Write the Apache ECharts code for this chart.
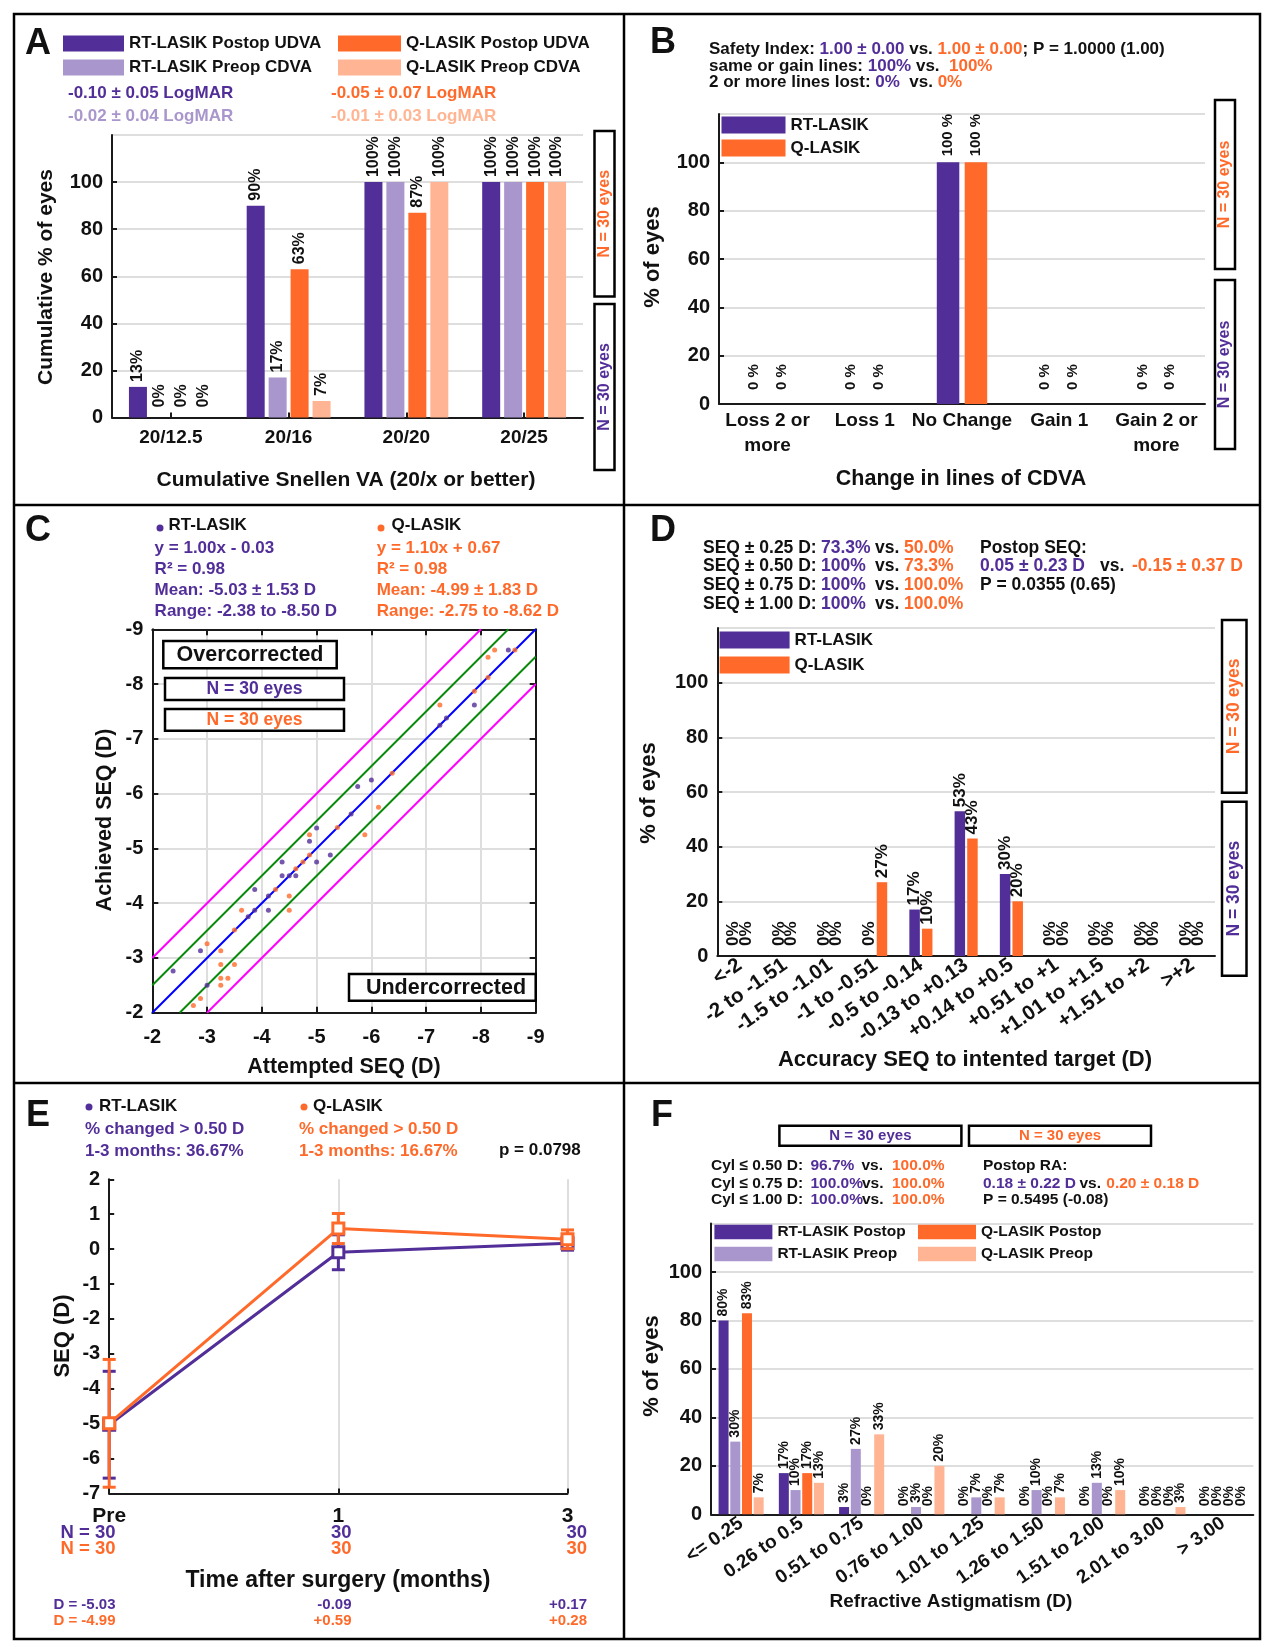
<!DOCTYPE html>
<html>
<head>
<meta charset="utf-8">
<title>RT-LASIK vs Q-LASIK outcomes</title>
<script src="https://cdn.jsdelivr.net/npm/echarts@6.0.0/dist/echarts.min.js"></script>
<style>
  html, body { margin: 0; padding: 0; background: #fff; }
  #chart { width: 1269px; height: 1647px; }
</style>
</head>
<body>
<div id="chart"></div>
<script>
// ---- A: cumulative Snellen VA ----
const vaCategories = ['20/12.5', '20/16', '20/20', '20/25'];
const rtPostopUdva = [13, 90, 100, 100];
const rtPreopCdva = [0, 17, 100, 100];
const qPostopUdva = [0, 63, 87, 100];
const qPreopCdva = [0, 7, 100, 100];

// ---- B: change in lines of CDVA ----
const cdvaCategories = ['Loss 2 or\nmore', 'Loss 1', 'No Change', 'Gain 1', 'Gain 2 or\nmore'];
const rtCdvaChange = [0, 0, 100, 0, 0];
const qCdvaChange = [0, 0, 100, 0, 0];

// ---- C: attempted vs achieved SEQ, [attempted, achieved] ----
const rtScatter = [
  [-2.38, -2.76], [-2.88, -3.13], [-3.00, -2.50], [-3.75, -3.75], [-3.87, -4.25],
  [-3.87, -3.87], [-4.12, -4.13], [-4.12, -3.87], [-4.37, -4.75], [-4.37, -4.50],
  [-4.50, -4.50], [-4.62, -4.50], [-4.87, -5.13], [-5.00, -5.37], [-5.00, -4.75],
  [-5.25, -4.88], [-5.63, -5.63], [-5.75, -6.13], [-6.00, -6.25], [-7.25, -7.25],
  [-7.37, -7.38], [-7.88, -7.62], [-8.50, -8.62]
];
const qScatter = [
  [-2.75, -2.13], [-2.88, -2.26], [-3.00, -3.26], [-3.25, -3.13], [-3.25, -2.88],
  [-3.25, -2.63], [-3.25, -2.50], [-3.38, -2.63], [-3.50, -3.51], [-3.50, -2.88],
  [-3.63, -3.87], [-4.25, -4.25], [-4.50, -4.13], [-4.50, -3.87], [-4.62, -4.63],
  [-4.75, -4.75], [-4.87, -4.88], [-4.87, -5.25], [-5.38, -5.38], [-5.88, -5.25],
  [-6.13, -5.75], [-6.38, -6.37], [-7.25, -7.62], [-7.88, -7.87], [-8.13, -8.12],
  [-8.13, -8.49], [-8.25, -8.62], [-8.62, -8.62]
];
const seqRange = [-9, -2];
const refOffsets = [-1, -0.5, 0, 0.5, 1];

// ---- D: accuracy of SEQ ----
const accuracyCategories = ['<-2', '-2 to -1.51', '-1.5 to -1.01', '-1 to -0.51', '-0.5 to -0.14',
  '-0.13 to +0.13', '+0.14 to +0.5', '+0.51 to +1', '+1.01 to +1.5', '+1.51 to +2', '>+2'];
const rtAccuracy = [0, 0, 0, 0, 17, 53, 30, 0, 0, 0, 0];
const qAccuracy = [0, 0, 0, 27, 10, 43, 20, 0, 0, 0, 0];

// ---- E: stability of SEQ ----
const timeCategories = ['Pre', '1', '3'];
const rtSeqMean = [-5.03, -0.09, 0.17];
const rtSeqSd = [1.53, 0.50, 0.20];
const qSeqMean = [-4.99, 0.59, 0.28];
const qSeqSd = [1.83, 0.43, 0.27];
const rtEyes = [30, 30, 30];
const qEyes = [30, 30, 30];

// ---- F: refractive astigmatism ----
const astigCategories = ['<= 0.25', '0.26 to 0.5', '0.51 to 0.75', '0.76 to 1.00', '1.01 to 1.25',
  '1.26 to 1.50', '1.51 to 2.00', '2.01 to 3.00', '> 3.00'];
const rtPostopCyl = [80, 17, 3, 0, 0, 0, 0, 0, 0];
const rtPreopCyl = [30, 10, 27, 3, 7, 10, 13, 0, 0];
const qPostopCyl = [83, 17, 0, 0, 0, 0, 0, 0, 0];
const qPreopCyl = [7, 13, 33, 20, 7, 7, 10, 3, 0];

// ---- styling ----
const PURPLE = '#522E98';
const LIGHT_PURPLE = '#A896CC';
const ORANGE = '#FF6A2B';
const LIGHT_ORANGE = '#FFB593';
const INK = '#111';
const GRIDC = '#dedede';
const FONT = '"Liberation Sans", Arial, Helvetica, sans-serif';

function font(size, weight) { return (weight || 'bold') + ' ' + size + 'px ' + FONT; }
function richSet(size, weight) {
  const f = font(size, weight);
  return {
    p: { fill: PURPLE, font: f }, o: { fill: ORANGE, font: f },
    lp: { fill: LIGHT_PURPLE, font: f }, lo: { fill: LIGHT_ORANGE, font: f },
    k: { fill: INK, font: f }
  };
}
function txt(x, y, text, o) {
  o = o || {};
  const size = o.size || 17, weight = o.weight || 'bold';
  return {
    type: 'text', x: x, y: y, rotation: o.rot || 0, z: 100, silent: true,
    style: {
      text: text, fill: o.color || INK, font: font(size, weight),
      align: o.align || 'left', verticalAlign: 'middle',
      rich: richSet(size, weight), legacy: false
    }
  };
}
function box(x, y, w, h) {
  return { type: 'rect', z: 99, silent: true, shape: { x: x, y: y, width: w, height: h },
    style: { fill: '#fff', stroke: '#000', lineWidth: 2.5 } };
}
function rule(x1, y1, x2, y2) {
  return { type: 'line', z: 99, silent: true, shape: { x1: x1, y1: y1, x2: x2, y2: y2 },
    style: { stroke: '#000', lineWidth: 2.5 } };
}
function dot(cx, cy, color) {
  return { type: 'circle', z: 100, silent: true, shape: { cx: cx, cy: cy, r: 3.5 }, style: { fill: color } };
}
function nBoxV(x, y, w, h, color, size) {
  return [box(x, y, w, h), txt(x + w / 2, y + h / 2, 'N = 30 eyes', { rot: Math.PI / 2, align: 'center', color: color, size: size })];
}
function nBoxH(x, y, w, h, color, size) {
  return [box(x, y, w, h), txt(x + w / 2, y + h / 2, 'N = 30 eyes', { align: 'center', color: color, size: size })];
}
const fmtD = v => (v > 0 ? '+' : '') + v.toFixed(2);

// ---- axis helpers ----
const axisLine = { onZero: false, lineStyle: { color: '#1a1a1a', width: 2 } };
const tickIn = { show: true, inside: true, length: 5, lineStyle: { color: '#1a1a1a', width: 2 } };
const split = { show: true, lineStyle: { color: GRIDC, width: 2 } };
function lbl(size, margin, extra) {
  return Object.assign({ color: INK, fontFamily: FONT, fontWeight: 'bold', fontSize: size, margin: margin }, extra || {});
}
function pctAxis(gridIndex) {
  return { type: 'value', gridIndex: gridIndex, min: 0, max: 120, interval: 20,
    axisLine: Object.assign({ show: true }, axisLine), axisTick: tickIn,
    axisLabel: lbl(20, 9, { showMaxLabel: false }), splitLine: split };
}
function catAxis(gridIndex, data, label, tick) {
  return { type: 'category', gridIndex: gridIndex, data: data, axisLine: axisLine,
    axisTick: tick || { show: false }, axisLabel: label, splitLine: { show: false } };
}
function barLabel(fmt, size, dist) {
  return { show: true, position: 'top', rotate: 90, align: 'left', verticalAlign: 'middle',
    distance: dist, formatter: fmt, fontSize: size, fontWeight: 'bold', color: INK, fontFamily: FONT };
}
function zeroGap(arr, gap) {
  return arr.map(v => (v === 0 ? { value: v, label: { distance: gap } } : v));
}
function bars(name, data, color, xi, width, gap, labelOpt, zgap) {
  return { type: 'bar', name: name, xAxisIndex: xi, yAxisIndex: xi, data: zeroGap(data, zgap),
    barWidth: width, barGap: gap, itemStyle: { color: color }, label: labelOpt };
}
function errorBars(color) {
  return function (params, api) {
    const i = api.value(0), m = api.value(1), sd = api.value(2);
    const top = api.coord([i, m + sd]);
    const bot = api.coord([i, m - sd]);
    const w = 6.5;
    const st = { stroke: color, lineWidth: 3 };
    return { type: 'group', children: [
      { type: 'line', shape: { x1: top[0], y1: top[1], x2: bot[0], y2: bot[1] }, style: st },
      { type: 'line', shape: { x1: top[0] - w, y1: top[1], x2: top[0] + w, y2: top[1] }, style: st },
      { type: 'line', shape: { x1: bot[0] - w, y1: bot[1], x2: bot[0] + w, y2: bot[1] }, style: st }
    ] };
  };
}

// reference lines in C: achieved = attempted + offset, clipped to the plot range
const refColors = { 1: '#ff00ff', 0.5: '#0a8a0a', 0: '#0000ff' };
const refSeries = refOffsets.map(o => {
  const a1 = Math.max(seqRange[0], seqRange[0] - o);
  const a2 = Math.min(seqRange[1], seqRange[1] - o);
  return { type: 'line', xAxisIndex: 2, yAxisIndex: 2, symbol: 'none', silent: true, z: 2,
    data: [[a1, a1 + o], [a2, a2 + o]],
    lineStyle: { color: refColors[Math.abs(o)], width: 2 } };
});

const legendText = size => ({ color: INK, fontFamily: FONT, fontWeight: 'bold', fontSize: size });
function legend(names, left, top, w, h, gap, size) {
  return { data: names, left: left, top: top, orient: 'vertical', itemWidth: w, itemHeight: h,
    itemGap: gap, icon: 'rect', padding: 0, selectedMode: false, textStyle: legendText(size) };
}

const F_SIZE = 15.5;
const graphics = [].concat(
  [
    { type: 'rect', z: 99, silent: true, shape: { x: 14, y: 14, width: 1246, height: 1625 },
      style: { fill: 'none', stroke: '#000', lineWidth: 2.5 } },
    rule(624, 14, 624, 1639), rule(14, 505, 1260, 505), rule(14, 1083, 1260, 1083),
    txt(25, 44, 'A', { size: 36 }), txt(650, 43, 'B', { size: 36 }),
    txt(25, 531, 'C', { size: 36 }), txt(650, 531, 'D', { size: 36 }),
    txt(26, 1116, 'E', { size: 36 }), txt(651, 1116, 'F', { size: 36 }),

    // A
    txt(68, 93, '-0.10 ± 0.05 LogMAR', { color: PURPLE }),
    txt(68, 116, '-0.02 ± 0.04 LogMAR', { color: LIGHT_PURPLE }),
    txt(331, 93, '-0.05 ± 0.07 LogMAR', { color: ORANGE }),
    txt(331, 116, '-0.01 ± 0.03 LogMAR', { color: LIGHT_ORANGE }),
    txt(46, 277, 'Cumulative % of eyes', { rot: Math.PI / 2, align: 'center', size: 21 }),
    txt(346, 480, 'Cumulative Snellen VA (20/x or better)', { align: 'center', size: 21 }),

    // B
    txt(709, 49, 'Safety Index: {p|1.00 ± 0.00} vs. {o|1.00 ± 0.00}; P = 1.0000 (1.00)', { size: 17 }),
    txt(709, 66, 'same or gain lines: {p|100%} vs.  {o|100%}', { size: 17 }),
    txt(709, 82, '2 or more lines lost: {p|0%}  vs. {o|0%}', { size: 17 }),
    txt(653, 257, '% of eyes', { rot: Math.PI / 2, align: 'center', size: 22 }),
    txt(961, 479, 'Change in lines of CDVA', { align: 'center', size: 21.5 }),

    // C
    dot(160, 528, PURPLE), txt(168.5, 525, 'RT-LASIK'),
    txt(154.6, 548, 'y = 1.00x - 0.03', { color: PURPLE }),
    txt(154.6, 569, 'R² = 0.98', { color: PURPLE }),
    txt(154.6, 590, 'Mean: -5.03 ± 1.53 D', { color: PURPLE }),
    txt(154.6, 611.5, 'Range: -2.38 to -8.50 D', { color: PURPLE }),
    dot(381, 528, ORANGE), txt(391.5, 525, 'Q-LASIK'),
    txt(376.7, 548, 'y = 1.10x + 0.67', { color: ORANGE }),
    txt(376.7, 569, 'R² = 0.98', { color: ORANGE }),
    txt(376.7, 590, 'Mean: -4.99 ± 1.83 D', { color: ORANGE }),
    txt(376.7, 611.5, 'Range: -2.75 to -8.62 D', { color: ORANGE }),
    txt(105, 820, 'Achieved SEQ (D)', { rot: Math.PI / 2, align: 'center', size: 21.5 }),
    txt(344, 1067, 'Attempted SEQ (D)', { align: 'center', size: 21.5 }),
    box(163.3, 641, 173.4, 27.3), txt(250, 655, 'Overcorrected', { align: 'center', size: 21.5 }),
    box(349, 974, 186.7, 26.7), txt(446, 988, 'Undercorrected', { align: 'center', size: 21.5 }),

    // D
    txt(703, 548, 'SEQ ± 0.25 D:', { size: 17.5 }), txt(703, 566.5, 'SEQ ± 0.50 D:', { size: 17.5 }),
    txt(703, 585, 'SEQ ± 0.75 D:', { size: 17.5 }), txt(703, 604, 'SEQ ± 1.00 D:', { size: 17.5 }),
    txt(821, 548, '73.3%', { size: 17.5, color: PURPLE }), txt(821, 566.5, '100%', { size: 17.5, color: PURPLE }),
    txt(821, 585, '100%', { size: 17.5, color: PURPLE }), txt(821, 604, '100%', { size: 17.5, color: PURPLE }),
    txt(875, 548, 'vs.', { size: 17.5 }), txt(875, 566.5, 'vs.', { size: 17.5 }),
    txt(875, 585, 'vs.', { size: 17.5 }), txt(875, 604, 'vs.', { size: 17.5 }),
    txt(904, 548, '50.0%', { size: 17.5, color: ORANGE }), txt(904, 566.5, '73.3%', { size: 17.5, color: ORANGE }),
    txt(904, 585, '100.0%', { size: 17.5, color: ORANGE }), txt(904, 604, '100.0%', { size: 17.5, color: ORANGE }),
    txt(980, 548, 'Postop SEQ:', { size: 17.5 }),
    txt(980, 566.5, '0.05 ± 0.23 D', { size: 17.5, color: PURPLE }),
    txt(1100, 566.5, 'vs.', { size: 17.5 }),
    txt(1132, 566.5, '-0.15 ± 0.37 D', { size: 17.5, color: ORANGE }),
    txt(980, 585, 'P = 0.0355 (0.65)', { size: 17.5 }),
    txt(649, 793, '% of eyes', { rot: Math.PI / 2, align: 'center', size: 22 }),
    txt(965, 1060, 'Accuracy SEQ to intented target (D)', { align: 'center', size: 22 }),

    // E
    dot(89, 1107, PURPLE), txt(99, 1106.5, 'RT-LASIK'),
    txt(85, 1129, '% changed > 0.50 D', { color: PURPLE }),
    txt(85, 1151.5, '1-3 months: 36.67%', { color: PURPLE }),
    dot(304, 1107, ORANGE), txt(313, 1106.5, 'Q-LASIK'),
    txt(299, 1129, '% changed > 0.50 D', { color: ORANGE }),
    txt(299, 1151.5, '1-3 months: 16.67%', { color: ORANGE }),
    txt(499, 1150.5, 'p = 0.0798'),
    txt(63, 1336, 'SEQ (D)', { rot: Math.PI / 2, align: 'center', size: 22 }),
    txt(338, 1581, 'Time after surgery (months)', { align: 'center', size: 23 }),

    // F
    txt(711, 1166, 'Cyl ≤ 0.50 D:', { size: F_SIZE }),
    txt(711, 1183.3, 'Cyl ≤ 0.75 D:', { size: F_SIZE }),
    txt(711, 1200, 'Cyl ≤ 1.00 D:', { size: F_SIZE }),
    txt(810.4, 1166, '96.7%', { size: F_SIZE, color: PURPLE }),
    txt(810.4, 1183.3, '100.0%', { size: F_SIZE, color: PURPLE }),
    txt(810.4, 1200, '100.0%', { size: F_SIZE, color: PURPLE }),
    txt(861.5, 1166, 'vs.', { size: F_SIZE }),
    txt(862, 1183.3, 'vs.', { size: F_SIZE }),
    txt(862, 1200, 'vs.', { size: F_SIZE }),
    txt(892, 1166, '100.0%', { size: F_SIZE, color: ORANGE }),
    txt(892, 1183.3, '100.0%', { size: F_SIZE, color: ORANGE }),
    txt(892, 1200, '100.0%', { size: F_SIZE, color: ORANGE }),
    txt(983, 1166, 'Postop RA:', { size: F_SIZE }),
    txt(983, 1183.3, '0.18 ± 0.22 D', { size: F_SIZE, color: PURPLE }),
    txt(1079.5, 1183.3, 'vs.', { size: F_SIZE }),
    txt(1106.3, 1183.3, '0.20 ± 0.18 D', { size: F_SIZE, color: ORANGE }),
    txt(983, 1200, 'P = 0.5495 (-0.08)', { size: F_SIZE }),
    txt(652, 1366, '% of eyes', { rot: Math.PI / 2, align: 'center', size: 22 }),
    txt(951, 1602, 'Refractive Astigmatism (D)', { align: 'center', size: 19 })
  ],
  nBoxV(594.5, 131, 20, 165.5, ORANGE, 16), nBoxV(594.5, 304, 20, 166, PURPLE, 16),
  nBoxV(1215, 100, 20, 169, ORANGE, 16), nBoxV(1215, 280, 20, 169, PURPLE, 16),
  nBoxH(165, 678, 179, 22, PURPLE, 17.5), nBoxH(165, 709, 179, 21.7, ORANGE, 17.5),
  nBoxV(1222, 620, 24.5, 172.7, ORANGE, 17.5), nBoxV(1222, 801.7, 24.5, 174, PURPLE, 17.5),
  nBoxH(779.4, 1125.7, 182, 20, PURPLE, 15), nBoxH(969, 1125.7, 182, 20, ORANGE, 15)
);

// E: eye counts and mean SEQ under each time point
const eCols = [115.5, 351.5, 587];
timeCategories.forEach((c, i) => {
  graphics.push(txt(eCols[i], 1533.3, (i === 0 ? 'N = ' : '') + rtEyes[i], { align: 'right', size: 18.5, color: PURPLE }));
  graphics.push(txt(eCols[i], 1549.3, (i === 0 ? 'N = ' : '') + qEyes[i], { align: 'right', size: 18.5, color: ORANGE }));
  graphics.push(txt(eCols[i], 1605, (i === 0 ? 'D = ' : '') + fmtD(rtSeqMean[i]), { align: 'right', size: 15, color: PURPLE }));
  graphics.push(txt(eCols[i], 1620.7, (i === 0 ? 'D = ' : '') + fmtD(qSeqMean[i]), { align: 'right', size: 15, color: ORANGE }));
});

const option = {
  animation: false,
  backgroundColor: '#fff',
  textStyle: { fontFamily: FONT },
  grid: [
    { left: 112, top: 135, width: 471, height: 282.5, outerBoundsMode: 'none' },
    { left: 719, top: 114, width: 486, height: 290, outerBoundsMode: 'none' },
    { left: 152.3, top: 629.3, width: 383.4, height: 383.4, outerBoundsMode: 'none' },
    { left: 717.3, top: 628, width: 497.7, height: 328, outerBoundsMode: 'none' },
    { left: 109.2, top: 1179.3, width: 458.3, height: 314.2, outerBoundsMode: 'none' },
    { left: 711, top: 1223.6, width: 542.3, height: 290.7, outerBoundsMode: 'none' }
  ],
  legend: [
    legend(['RT-LASIK Postop UDVA', 'RT-LASIK Preop CDVA'], 63, 35, 61, 16, 7, 17),
    legend(['Q-LASIK Postop UDVA', 'Q-LASIK Preop CDVA'], 338, 35, 63, 16, 7, 17),
    legend(['RT-LASIK', 'Q-LASIK'], 721.5, 116.5, 64, 17, 6, 17),
    legend(['RT-LASIK', 'Q-LASIK'], 719.6, 631.5, 70, 17, 8, 17),
    legend(['RT-LASIK Postop', 'RT-LASIK Preop'], 714.4, 1224, 58, 14.5, 6, 15.5),
    legend(['Q-LASIK Postop', 'Q-LASIK Preop'], 918, 1224, 58, 14.5, 6, 15.5)
  ],
  xAxis: [
    catAxis(0, vaCategories, lbl(19, 11), { show: true, inside: true, alignWithLabel: true, length: 5, lineStyle: { color: '#1a1a1a', width: 2 } }),
    catAxis(1, cdvaCategories, lbl(19, 4, { lineHeight: 25, interval: 0 })),
    { type: 'value', gridIndex: 2, min: seqRange[0], max: seqRange[1], interval: 1, inverse: true,
      axisLine: axisLine, axisTick: Object.assign({}, tickIn, { length: 6 }), axisLabel: lbl(20, 15), splitLine: split },
    { type: 'value', gridIndex: 2, position: 'top', min: seqRange[0], max: seqRange[1], interval: 1, inverse: true,
      axisLine: axisLine, axisTick: Object.assign({}, tickIn, { length: 6 }), axisLabel: { show: false }, splitLine: { show: false } },
    catAxis(3, accuracyCategories, lbl(20.5, 7, { rotate: 35, interval: 0 })),
    { type: 'category', gridIndex: 4, data: timeCategories, boundaryGap: false, axisLine: axisLine,
      axisTick: tickIn, axisLabel: lbl(21, 12, { interval: 0 }), splitLine: split },
    catAxis(5, astigCategories, lbl(19, 7, { rotate: 35, interval: 0 }))
  ],
  yAxis: [
    pctAxis(0),
    pctAxis(1),
    { type: 'value', gridIndex: 2, min: seqRange[0], max: seqRange[1], interval: 1, inverse: true,
      axisLine: Object.assign({ show: true }, axisLine), axisTick: Object.assign({}, tickIn, { length: 6 }),
      axisLabel: lbl(20, 9), splitLine: split },
    { type: 'value', gridIndex: 2, position: 'right', min: seqRange[0], max: seqRange[1], interval: 1, inverse: true,
      axisLine: Object.assign({ show: true }, axisLine), axisTick: Object.assign({}, tickIn, { length: 6 }),
      axisLabel: { show: false }, splitLine: { show: false } },
    pctAxis(3),
    { type: 'value', gridIndex: 4, min: -7, max: 2, interval: 1,
      axisLine: Object.assign({ show: true }, axisLine), axisTick: tickIn,
      axisLabel: lbl(20, 9), splitLine: { show: false } },
    pctAxis(5)
  ],
  series: [].concat(
    // A
    bars('RT-LASIK Postop UDVA', rtPostopUdva, PURPLE, 0, 18, '22%', barLabel('{c}%', 16, 5), 10),
    bars('RT-LASIK Preop CDVA', rtPreopCdva, LIGHT_PURPLE, 0, 18, '22%', barLabel('{c}%', 16, 5), 10),
    bars('Q-LASIK Postop UDVA', qPostopUdva, ORANGE, 0, 18, '22%', barLabel('{c}%', 16, 5), 10),
    bars('Q-LASIK Preop CDVA', qPreopCdva, LIGHT_ORANGE, 0, 18, '22%', barLabel('{c}%', 16, 5), 10),
    // B
    bars('RT-LASIK', rtCdvaChange, PURPLE, 1, 22.5, '24%', barLabel('{c} %', 15, 6), 14),
    bars('Q-LASIK', qCdvaChange, ORANGE, 1, 22.5, '24%', barLabel('{c} %', 15, 6), 14),
    // C
    refSeries,
    { type: 'scatter', name: 'RT-LASIK eyes', xAxisIndex: 2, yAxisIndex: 2, data: rtScatter,
      symbolSize: 5, itemStyle: { color: PURPLE }, z: 4 },
    { type: 'scatter', name: 'Q-LASIK eyes', xAxisIndex: 2, yAxisIndex: 2, data: qScatter,
      symbolSize: 5, itemStyle: { color: ORANGE }, z: 4 },
    // D
    { type: 'bar', name: 'RT-LASIK', xAxisIndex: 4, yAxisIndex: 4, data: zeroGap(rtAccuracy, 10),
      barWidth: 10.5, barGap: '20%', itemStyle: { color: PURPLE }, label: barLabel('{c}%', 17, 4) },
    { type: 'bar', name: 'Q-LASIK', xAxisIndex: 4, yAxisIndex: 4, data: zeroGap(qAccuracy, 10),
      barWidth: 10.5, barGap: '20%', itemStyle: { color: ORANGE }, label: barLabel('{c}%', 17, 4) },
    // E
    { type: 'custom', name: 'RT-LASIK SD', xAxisIndex: 5, yAxisIndex: 5, z: 3,
      data: timeCategories.map((c, i) => [i, rtSeqMean[i], rtSeqSd[i]]),
      encode: { x: 0, y: 1 }, renderItem: errorBars(PURPLE) },
    { type: 'line', name: 'RT-LASIK SEQ', xAxisIndex: 5, yAxisIndex: 5, z: 4, data: rtSeqMean,
      symbol: 'rect', symbolSize: 11, lineStyle: { color: PURPLE, width: 3 },
      itemStyle: { color: '#fff', borderColor: PURPLE, borderWidth: 3 } },
    { type: 'custom', name: 'Q-LASIK SD', xAxisIndex: 5, yAxisIndex: 5, z: 5,
      data: timeCategories.map((c, i) => [i, qSeqMean[i], qSeqSd[i]]),
      encode: { x: 0, y: 1 }, renderItem: errorBars(ORANGE) },
    { type: 'line', name: 'Q-LASIK SEQ', xAxisIndex: 5, yAxisIndex: 5, z: 6, data: qSeqMean,
      symbol: 'rect', symbolSize: 11, lineStyle: { color: ORANGE, width: 3 },
      itemStyle: { color: '#fff', borderColor: ORANGE, borderWidth: 3 } },
    // F
    bars('RT-LASIK Postop', rtPostopCyl, PURPLE, 6, 10, '17%', barLabel('{c}%', 14, 4), 8),
    bars('RT-LASIK Preop', rtPreopCyl, LIGHT_PURPLE, 6, 10, '17%', barLabel('{c}%', 14, 4), 8),
    bars('Q-LASIK Postop', qPostopCyl, ORANGE, 6, 10, '17%', barLabel('{c}%', 14, 4), 8),
    bars('Q-LASIK Preop', qPreopCyl, LIGHT_ORANGE, 6, 10, '17%', barLabel('{c}%', 14, 4), 8)
  ),
  graphic: graphics
};

const chart = echarts.init(document.getElementById('chart'));
chart.setOption(option);
</script>
</body>
</html>
